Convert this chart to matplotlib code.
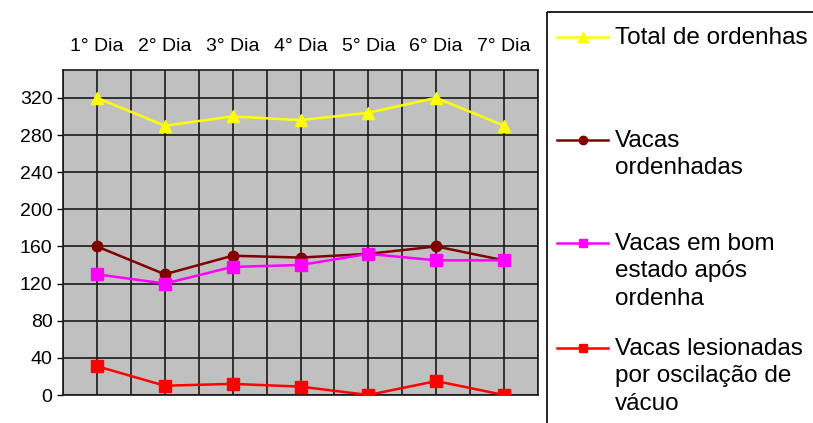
import matplotlib
matplotlib.use('Agg')
import matplotlib.pyplot as plt
from matplotlib.patches import Rectangle

plt.rcParams['font.family'] = ['Liberation Sans', 'DejaVu Sans']

dias = ['1° Dia', '2° Dia', '3° Dia', '4° Dia', '5° Dia', '6° Dia', '7° Dia']
total_ordenhas = [320, 290, 300, 296, 304, 320, 290]
vacas_ordenhadas = [160, 130, 150, 148, 152, 160, 145]
vacas_bom_estado = [130, 120, 138, 140, 152, 145, 145]
vacas_lesionadas = [31, 10, 12, 9, 0, 15, 0]

series = [
    ('Total de ordenhas', total_ordenhas, '#FFFF00', '^', 9),
    ('Vacas\nordenhadas', vacas_ordenhadas, '#800000', 'o', 7.5),
    ('Vacas em bom\nestado após\nordenha', vacas_bom_estado, '#FF00FF', 's', 8),
    ('Vacas lesionadas\npor oscilação de\nvácuo', vacas_lesionadas, '#FF0000', 's', 8),
]

fig = plt.figure(figsize=(8.13, 4.23), dpi=100)
ax = fig.add_axes([63 / 813, 28 / 423, 475 / 813, 325 / 423])
ax.set_facecolor('#C0C0C0')

x = list(range(len(dias)))
for name, vals, color, marker, ms in series:
    ax.plot(x, vals, color=color, marker=marker, markersize=ms, lw=1.8, zorder=3)

ax.set_xlim(-0.5, len(dias) - 0.5)
ax.set_ylim(0, 350)
ax.set_yticks(range(0, 321, 40))
ax.set_xticks(x)
ax.set_xticks([i - 0.5 for i in range(len(dias) + 1)], minor=True)
ax.set_xticklabels(dias)
ax.xaxis.tick_top()
ax.tick_params(axis='x', which='both', length=0, pad=11, labelsize=14)
ax.tick_params(axis='y', length=4.5, width=1, direction='out', pad=3, labelsize=14)
ax.grid(True, which='both', color='#1a1a1a', lw=1.2, zorder=1)
ax.set_axisbelow(True)
for sp in ax.spines.values():
    sp.set_color('#1a1a1a')
    sp.set_linewidth(1.2)

# legend box drawn in pixel space
lg = fig.add_axes([0, 0, 1, 1])
lg.set_xlim(0, 813)
lg.set_ylim(423, 0)
lg.axis('off')
lg.add_patch(Rectangle((547, 12), 300, 450, fill=False, edgecolor='black', lw=1.2))
rows = [37, 140, 243, 348]
for (name, vals, color, marker, ms), ry in zip(series, rows):
    lg.plot([557, 608], [ry, ry], color=color, lw=1.8)
    lg.plot([583], [ry], color=color, marker=marker, markersize=ms * 0.8)
    lg.text(615, ry - 10, name, fontsize=17.5, va='top', ha='left',
            linespacing=1.32)

fig.savefig('out.png', dpi=100)
